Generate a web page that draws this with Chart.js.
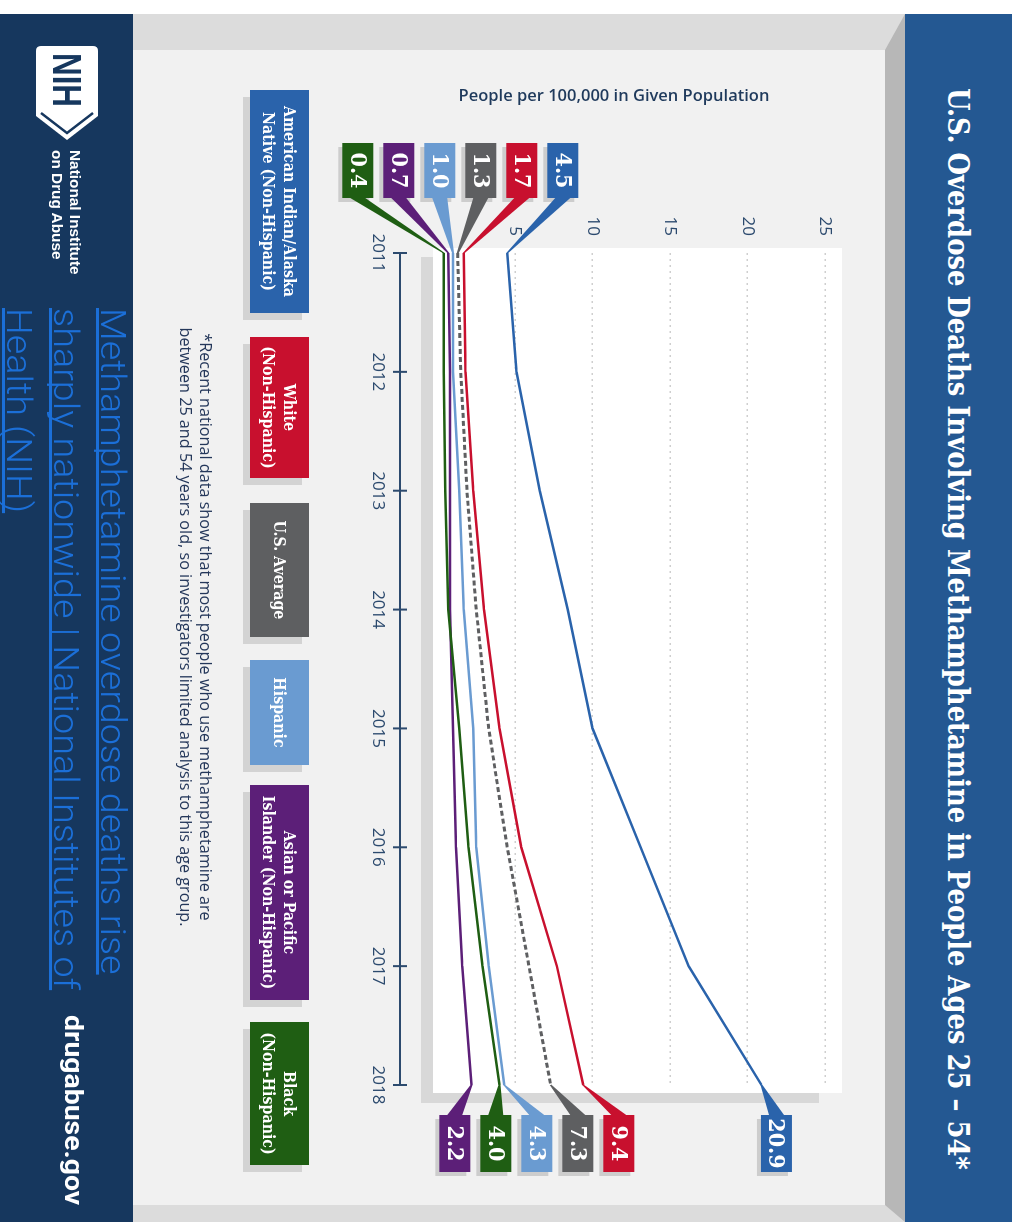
<!DOCTYPE html>
<html>
<head>
<meta charset="utf-8">
<title>U.S. Overdose Deaths Involving Methamphetamine in People Ages 25 – 54</title>
<script src="https://cdn.jsdelivr.net/npm/chart.js@4.4.1/dist/chart.umd.min.js"></script>
<style>
  html, body { margin: 0; padding: 0; background: #fff; width: 1019px; height: 1222px; overflow: hidden; }
  /* The infographic is laid out landscape and turned a quarter clockwise onto the page */
  #sheet { position: absolute; left: 0; top: 0; width: 1222px; height: 1019px; overflow: hidden;
           background: #fff; transform-origin: 0 0; transform: translate(1019px, 0) rotate(90deg); }
  .abs { position: absolute; }
  .slab { font-family: "DejaVu Serif Condensed", "DejaVu Serif", "Liberation Serif", serif; font-stretch: condensed; font-weight: bold; }
  #titleBand { left: 14px; top: 7px; width: 1208px; height: 107px; background: #245892; }
  #titleText { left: 88px; top: 7px; height: 107px; line-height: 107px; color: #fff; font-size: 30px; white-space: nowrap; transform-origin: 0 50%; }
  #frame { left: 14px; top: 114px; width: 1208px; height: 772px; background: #dcdcdc; }
  #side { left: 14px; top: 114px; width: 1208px; height: 20px; background: #b7b7b7;
          clip-path: polygon(0 0, 100% 0, calc(100% - 17px) 100%, 36px 100%); }
  #panel { left: 50px; top: 134px; width: 1155px; height: 752px; background: #f1f1f1; }
  #footBand { left: 14px; top: 886px; width: 1208px; height: 133px; background: #16375e; }
  #chart { left: 0; top: 0; }
  #valueTitle { left: -66px; top: 394px; width: 322px; height: 22px; line-height: 22px; text-align: center;
                font-family: "Open Sans", sans-serif; font-weight: 600; font-size: 16.5px; color: #1f3a5c;
                transform: rotate(-90deg); white-space: nowrap; }
  .key { top: 710px; height: 59px; display: flex; align-items: center; justify-content: center; text-align: center;
         color: #fff; font-size: 15.8px; line-height: 21px; box-shadow: 7px 7px 0 #d3d3d3; }
  #note { left: 277px; top: 803px; width: 700px; text-align: center; font-family: "Open Sans", sans-serif;
          font-size: 16.2px; line-height: 20px; color: #24375a; white-space: nowrap; }
  #agency { left: 150px; top: 935px; color: #fff; font-family: "Liberation Sans", Arial, sans-serif; font-weight: bold;
            font-size: 14.5px; line-height: 18px; white-space: nowrap; }
  #agency div { display: inline-block; transform-origin: 0 50%; }
  #source { left: 308px; top: 883px; color: #1b6fd8; font-family: Roboto, "Open Sans", sans-serif; font-weight: 300;
            font-size: 35px; line-height: 47px; white-space: nowrap; text-decoration: none; }
  #source span { display: inline-block; transform-origin: 0 50%; text-decoration: underline; text-decoration-skip-ink: none; }
  #site { left: 1015px; top: 928px; color: #fff; font-family: Roboto, "Liberation Sans", sans-serif; font-weight: bold;
          font-size: 26px; line-height: 34px; white-space: nowrap; transform-origin: 0 50%; }
</style>
</head>
<body>
<div id="sheet">
  <div id="titleBand" class="abs"></div>
  <div id="titleText" class="abs slab">U.S. Overdose Deaths Involving Methamphetamine in People Ages 25 – 54*</div>
  <div id="frame" class="abs"></div>
  <div id="side" class="abs"></div>
  <div id="panel" class="abs"></div>
  <div id="footBand" class="abs"></div>

  <canvas id="chart" class="abs" width="1222" height="1019"></canvas>

  <div id="valueTitle" class="abs">People per 100,000 in Given Population</div>
  <div id="keys"></div>
  <div id="note" class="abs">*Recent national data show that most people who use methamphetamine are<br>between 25 and 54 years old, so investigators limited analysis to this age group.</div>

  <svg class="abs" style="left:46px;top:921px" width="96" height="62" viewBox="0 0 96 62">
    <path d="M5 0 H70 L94 31 L70 62 H5 Q0 62 0 57 V5 Q0 0 5 0 Z" fill="#fff"/>
    <path d="M67 5 L87 31 L67 57" fill="none" stroke="#16375e" stroke-width="2.5"/>
    <text x="34" y="45" text-anchor="middle" font-family="Liberation Sans, Arial, sans-serif" font-weight="bold"
          font-size="40" fill="#16375e" textLength="54" lengthAdjust="spacingAndGlyphs">NIH</text>
  </svg>
  <div id="agency" class="abs"><div id="agency1">National Institute</div><br><div>on Drug Abuse</div></div>

  <a id="source" class="abs" href="#"><span>Methamphetamine overdose deaths rise</span><br><span id="source2">sharply nationwide | National Institutes of</span><br><span>Health (NIH)</span></a>
  <div id="site" class="abs">drugabuse.gov</div>
</div>

<script>
// Death rates per 100,000 people aged 25–54, by year
const years = ['2011', '2012', '2013', '2014', '2015', '2016', '2017', '2018'];
const aianRate     = [4.5, 5.1, 6.6, 8.4, 10.0, 13.1, 16.2, 20.9];
const whiteRate    = [1.7, 1.8, 2.3, 3.0, 4.0, 5.4, 7.7, 9.4];
const usAverage    = [1.3, 1.5, 1.9, 2.5, 3.3, 4.5, 5.9, 7.3];
const hispanicRate = [1.0, 1.0, 1.4, 1.7, 2.3, 2.5, 3.3, 4.3];
const asianPIRate  = [0.7, 0.8, 0.8, 0.8, 1.0, 1.2, 1.6, 2.2];
const blackRate    = [0.4, 0.4, 0.5, 0.7, 1.4, 2.0, 2.9, 4.0];
const valueTicks   = [5, 10, 15, 20, 25];

const groupNames = [
  ['American Indian/Alaska', 'Native (Non-Hispanic)'],
  ['White', '(Non-Hispanic)'],
  ['U.S. Average'],
  ['Hispanic'],
  ['Asian or Pacific', 'Islander (Non-Hispanic)'],
  ['Black', '(Non-Hispanic)']
];
const groupColors = ['#2a63ab', '#c8102e', '#5e5f61', '#6a9bd1', '#5c1f78', '#1f5e13'];
const groupSeries = [aianRate, whiteRate, usAverage, hispanicRate, asianPIRate, blackRate];

// legend keys
const keyLeft  = [90, 337, 503, 660, 785, 1022];
const keyWidth = [223, 141, 134, 105, 215, 143];
const keysEl = document.getElementById('keys');
groupNames.forEach((lines, i) => {
  const k = document.createElement('div');
  k.className = 'abs key slab';
  k.style.left = keyLeft[i] + 'px';
  k.style.width = keyWidth[i] + 'px';
  k.style.background = groupColors[i];
  k.innerHTML = '<div>' + lines.join('<br>') + '</div>';
  keysEl.appendChild(k);
});

// squeeze a text block horizontally so it spans a given width
function fitWidth(el, target) {
  const w = el.offsetWidth;
  if (w > 0) el.style.transform = 'scaleX(' + (target / w) + ')';
  return target / w;
}
function fitAll() {
  const t = document.getElementById('titleText');
  t.style.display = 'inline-block';
  fitWidth(t, 1082);
  fitWidth(document.getElementById('site'), 190);
  const s = document.getElementById('source2');
  const f = 682 / s.offsetWidth;
  document.querySelectorAll('#source span').forEach(sp => sp.style.transform = 'scaleX(' + f + ')');
  const a = document.getElementById('agency1');
  const g = 125 / a.offsetWidth;
  document.querySelectorAll('#agency div').forEach(d => d.style.transform = 'scaleX(' + g + ')');
}

// place tag centres at their wished positions, pushing apart ones that would overlap
function spread(wished, gap) {
  const order = wished.map((d, i) => ({ d, i })).sort((a, b) => a.d - b.d);
  const groups = order.map(o => ({ items: [o] }));
  const place = g => {
    const m = g.items.reduce((s, o) => s + o.d, 0) / g.items.length;
    g.start = m - gap * (g.items.length - 1) / 2;
    g.end = g.start + gap * (g.items.length - 1);
  };
  groups.forEach(place);
  let merged = true;
  while (merged) {
    merged = false;
    for (let k = 0; k < groups.length - 1; k++) {
      if (groups[k].end + gap > groups[k + 1].start) {
        groups[k].items = groups[k].items.concat(groups[k + 1].items);
        groups.splice(k + 1, 1);
        place(groups[k]);
        merged = true;
        break;
      }
    }
  }
  const out = [];
  groups.forEach(g => g.items.forEach((o, j) => { out[o.i] = g.start + j * gap; }));
  return out;
}

const SLAB = '"DejaVu Serif Condensed", "DejaVu Serif", "Liberation Serif", serif';

function drawTag(ctx, left, cy, w, h, side, pt, color, text) {
  const top = cy - h / 2;
  const bx = side === 'right' ? left + w : left;
  ctx.fillStyle = '#cdcdcd';
  ctx.fillRect(left + 4, top + 4, w, h);
  ctx.fillStyle = color;
  ctx.beginPath();
  ctx.moveTo(bx, cy - 7.5);
  ctx.lineTo(pt.x, pt.y - 1);
  ctx.lineTo(pt.x, pt.y + 1);
  ctx.lineTo(bx, cy + 7.5);
  ctx.closePath();
  ctx.fill();
  ctx.fillRect(left, top, w, h);
  ctx.fillStyle = '#fff';
  ctx.font = 'bold 23px ' + SLAB;
  ctx.textAlign = 'center';
  ctx.textBaseline = 'middle';
  ctx.fillText(text, left + w / 2, cy + 1);
}

// white plotting card with its drop shadow
const plotCard = {
  id: 'plotCard',
  beforeDraw(chart) {
    const { ctx, chartArea: a } = chart;
    ctx.save();
    ctx.fillStyle = '#d8d8d8';
    ctx.fillRect(a.left + 4, a.top + 6, (a.right + 18) - (a.left + 4), (a.bottom + 16.5) - (a.top + 6));
    ctx.fillStyle = '#ffffff';
    ctx.fillRect(a.left - 5, a.top - 17, (a.right + 8) - (a.left - 5), (a.bottom + 4.5) - (a.top - 17));
    ctx.restore();
  }
};

// detached year rule with a tick at every year
const yearRule = {
  id: 'yearRule',
  afterDraw(chart) {
    const { ctx, chartArea: a } = chart;
    const xs = chart.scales.x;
    const y = a.bottom + 37.5;
    ctx.save();
    ctx.strokeStyle = '#2c4a6e';
    ctx.lineWidth = 2;
    ctx.beginPath();
    ctx.moveTo(xs.getPixelForTick(0), y);
    ctx.lineTo(xs.getPixelForTick(years.length - 1), y);
    for (let i = 0; i < years.length; i++) {
      const x = xs.getPixelForTick(i);
      ctx.moveTo(x, y - 7);
      ctx.lineTo(x, y + 7);
    }
    ctx.stroke();
    ctx.restore();
  }
};

// value tags at the first and last year of every series
const endTags = {
  id: 'endTags',
  afterDatasetsDraw(chart) {
    const { ctx, chartArea: a } = chart;
    const dsets = chart.data.datasets;
    const first = dsets.map((d, i) => chart.getDatasetMeta(i).data[0]);
    const last = dsets.map((d, i) => { const m = chart.getDatasetMeta(i).data; return m[m.length - 1]; });
    const startY = spread(first.map(p => p.y + 2), 41);
    const endY = spread(last.map(p => p.y - 15), 41);
    ctx.save();
    dsets.forEach((ds, i) => {
      const v0 = ds.data[0], v1 = ds.data[ds.data.length - 1];
      drawTag(ctx, a.left - 110, startY[i], 55, 31, 'right', first[i], ds.tagColor, v0.toFixed(1));
      drawTag(ctx, a.right + 30, endY[i], 57, 31, 'left', last[i], ds.tagColor, v1.toFixed(1));
    });
    ctx.restore();
  }
};

const axisFont = { family: '"Open Sans", sans-serif', size: 17 };
const axisColor = '#2c4a6e';

// draw order: lowest rates first so the steep series sit on top
const drawOrder = [5, 4, 3, 2, 1, 0];
const datasets = drawOrder.map(i => ({
  label: groupNames[i].join(' '),
  data: groupSeries[i],
  borderColor: groupColors[i],
  tagColor: groupColors[i],
  borderWidth: i === 2 ? 3 : 2.5,
  borderDash: i === 2 ? [5, 3] : [],
  pointRadius: 0,
  tension: 0,
  fill: false
}));

function build() {
  fitAll();
  new Chart(document.getElementById('chart'), {
    type: 'line',
    data: { labels: years, datasets },
    options: {
      responsive: false,
      animation: false,
      devicePixelRatio: 1,
      layout: { padding: { left: 193, right: 137, top: 194, bottom: 357.5 } },
      plugins: { legend: { display: false }, tooltip: { enabled: false } },
      scales: {
        x: {
          type: 'category',
          offset: false,
          grid: { display: false, drawTicks: false },
          border: { display: false },
          ticks: { color: axisColor, font: axisFont, padding: 49, maxRotation: 0, autoSkip: false },
          afterFit(s) { s.height = 80; }
        },
        y: {
          min: 0,
          max: 25,
          grid: { color: '#cfcfcf', lineWidth: 1.5, drawTicks: false },
          border: { display: false, dash: [2, 4] },
          ticks: { color: axisColor, font: axisFont, padding: 17, stepSize: 5 },
          afterBuildTicks(s) { s.ticks = valueTicks.map(v => ({ value: v })); },
          afterFit(s) { s.width = 60; }
        }
      }
    },
    plugins: [plotCard, yearRule, endTags]
  });
}

if (document.fonts && document.fonts.ready) {
  document.fonts.ready.then(build);
} else {
  build();
}
</script>
</body>
</html>
